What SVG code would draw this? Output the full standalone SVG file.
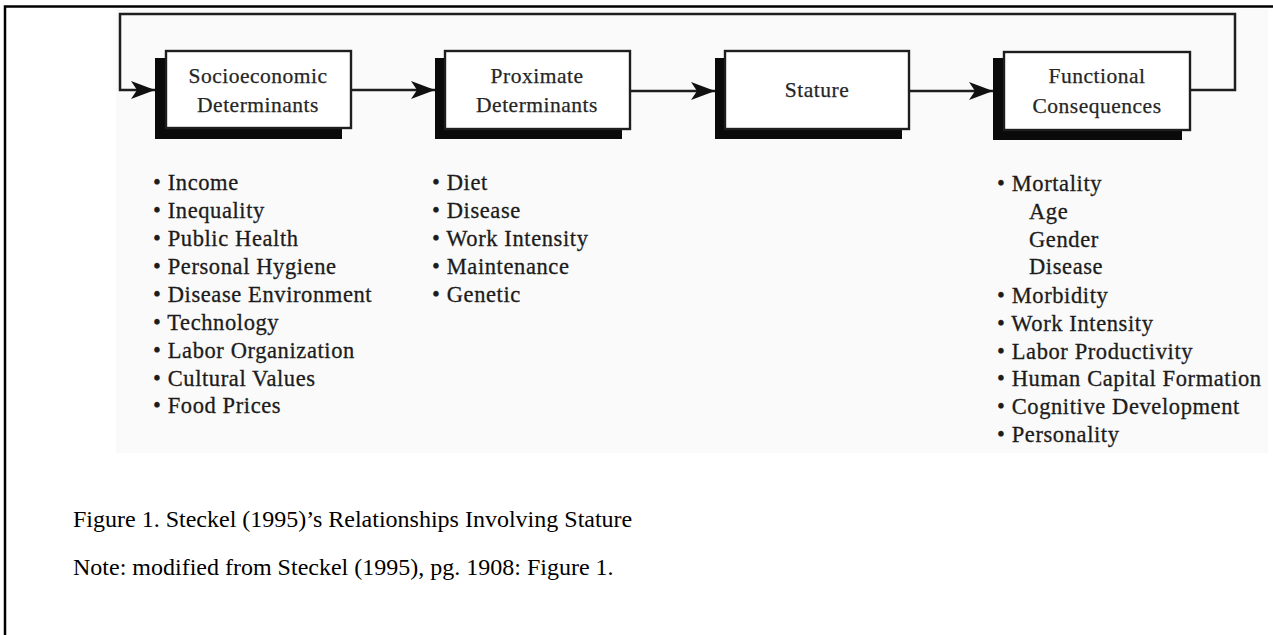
<svg xmlns="http://www.w3.org/2000/svg" width="1273" height="635" viewBox="0 0 1273 635">
  <style>
    .box { fill: #ffffff; stroke: #1e1e1e; stroke-width: 2.4; }
    .shadow { fill: #0a0a0a; }
    .lbl { font-family: "Liberation Serif", "Times New Roman", serif; font-size: 21.5px; fill: #262626; stroke: #262626; stroke-width: 0.25px; text-anchor: middle; letter-spacing: 0.5px; }
    .item { font-family: "Liberation Serif", "Times New Roman", serif; font-size: 22.5px; fill: #1c1c1c; stroke: #1c1c1c; stroke-width: 0.3px; letter-spacing: 0.6px; }
    .cap { font-family: "Liberation Serif", "Times New Roman", serif; font-size: 24px; fill: #000; }
    .conn { fill: none; stroke: #1e1e1e; stroke-width: 2.5; }
    .frame { stroke: #000; stroke-width: 2.5; fill: none; }
  </style>
  <defs>
    <marker id="arrow" markerUnits="userSpaceOnUse" markerWidth="26" markerHeight="18" refX="24" refY="9" orient="auto">
      <path d="M0,0 L24,9 L0,18 L6,9 z" fill="#111"/>
    </marker>
  </defs>
  <rect width="1273" height="635" fill="#ffffff"/>
  <rect x="116" y="9" width="1152" height="444" fill="#fafafa"/>
  <g id="frame">
    <path class="frame" d="M5,635 V6.5 H1273"/>
  </g>
  <g id="connectors">
    <path class="conn" d="M1190,90 H1235 V14 H120 V90 H155" marker-end="url(#arrow)"/>
    <path class="conn" d="M351,90 H435" marker-end="url(#arrow)"/>
    <path class="conn" d="M630,91 H715" marker-end="url(#arrow)"/>
    <path class="conn" d="M909,91 H993" marker-end="url(#arrow)"/>
  </g>
  <g id="node-socioeconomic">
    <rect class="shadow" x="155" y="58" width="187" height="81"/>
    <rect class="box" x="166" y="51" width="185" height="77"/>
    <text class="lbl" x="258" y="83">Socioeconomic</text>
    <text class="lbl" x="258" y="112">Determinants</text>
  </g>
  <g id="node-proximate">
    <rect class="shadow" x="435" y="58" width="187" height="81"/>
    <rect class="box" x="445" y="51" width="185" height="78"/>
    <text class="lbl" x="537" y="83">Proximate</text>
    <text class="lbl" x="537" y="112">Determinants</text>
  </g>
  <g id="node-stature">
    <rect class="shadow" x="715" y="58" width="187" height="81"/>
    <rect class="box" x="725" y="51" width="184" height="78"/>
    <text class="lbl" x="817" y="97">Stature</text>
  </g>
  <g id="node-functional">
    <rect class="shadow" x="993" y="58" width="189" height="82"/>
    <rect class="box" x="1004" y="52" width="186" height="78"/>
    <text class="lbl" x="1097" y="83">Functional</text>
    <text class="lbl" x="1097" y="113">Consequences</text>
  </g>
  <g id="list-socioeconomic" class="item">
    <text x="153" y="190">• Income</text>
    <text x="153" y="218">• Inequality</text>
    <text x="153" y="246">• Public Health</text>
    <text x="153" y="274">• Personal Hygiene</text>
    <text x="153" y="302">• Disease Environment</text>
    <text x="153" y="330">• Technology</text>
    <text x="153" y="358">• Labor Organization</text>
    <text x="153" y="386">• Cultural Values</text>
    <text x="153" y="413">• Food Prices</text>
  </g>
  <g id="list-proximate" class="item">
    <text x="432" y="190">• Diet</text>
    <text x="432" y="218">• Disease</text>
    <text x="432" y="246">• Work Intensity</text>
    <text x="432" y="274">• Maintenance</text>
    <text x="432" y="302">• Genetic</text>
  </g>
  <g id="list-functional" class="item">
    <text x="997" y="191">• Mortality</text>
    <text x="1029" y="219">Age</text>
    <text x="1029" y="247">Gender</text>
    <text x="1029" y="274">Disease</text>
    <text x="997" y="302.5">• Morbidity</text>
    <text x="997" y="330.5">• Work Intensity</text>
    <text x="997" y="358.5">• Labor Productivity</text>
    <text x="997" y="386">• Human Capital Formation</text>
    <text x="997" y="414">• Cognitive Development</text>
    <text x="997" y="442">• Personality</text>
  </g>
  <g id="caption">
    <text class="cap" x="73" y="527">Figure 1. Steckel (1995)’s Relationships Involving Stature</text>
    <text class="cap" x="73" y="575">Note: modified from Steckel (1995), pg. 1908: Figure 1.</text>
  </g>
</svg>
